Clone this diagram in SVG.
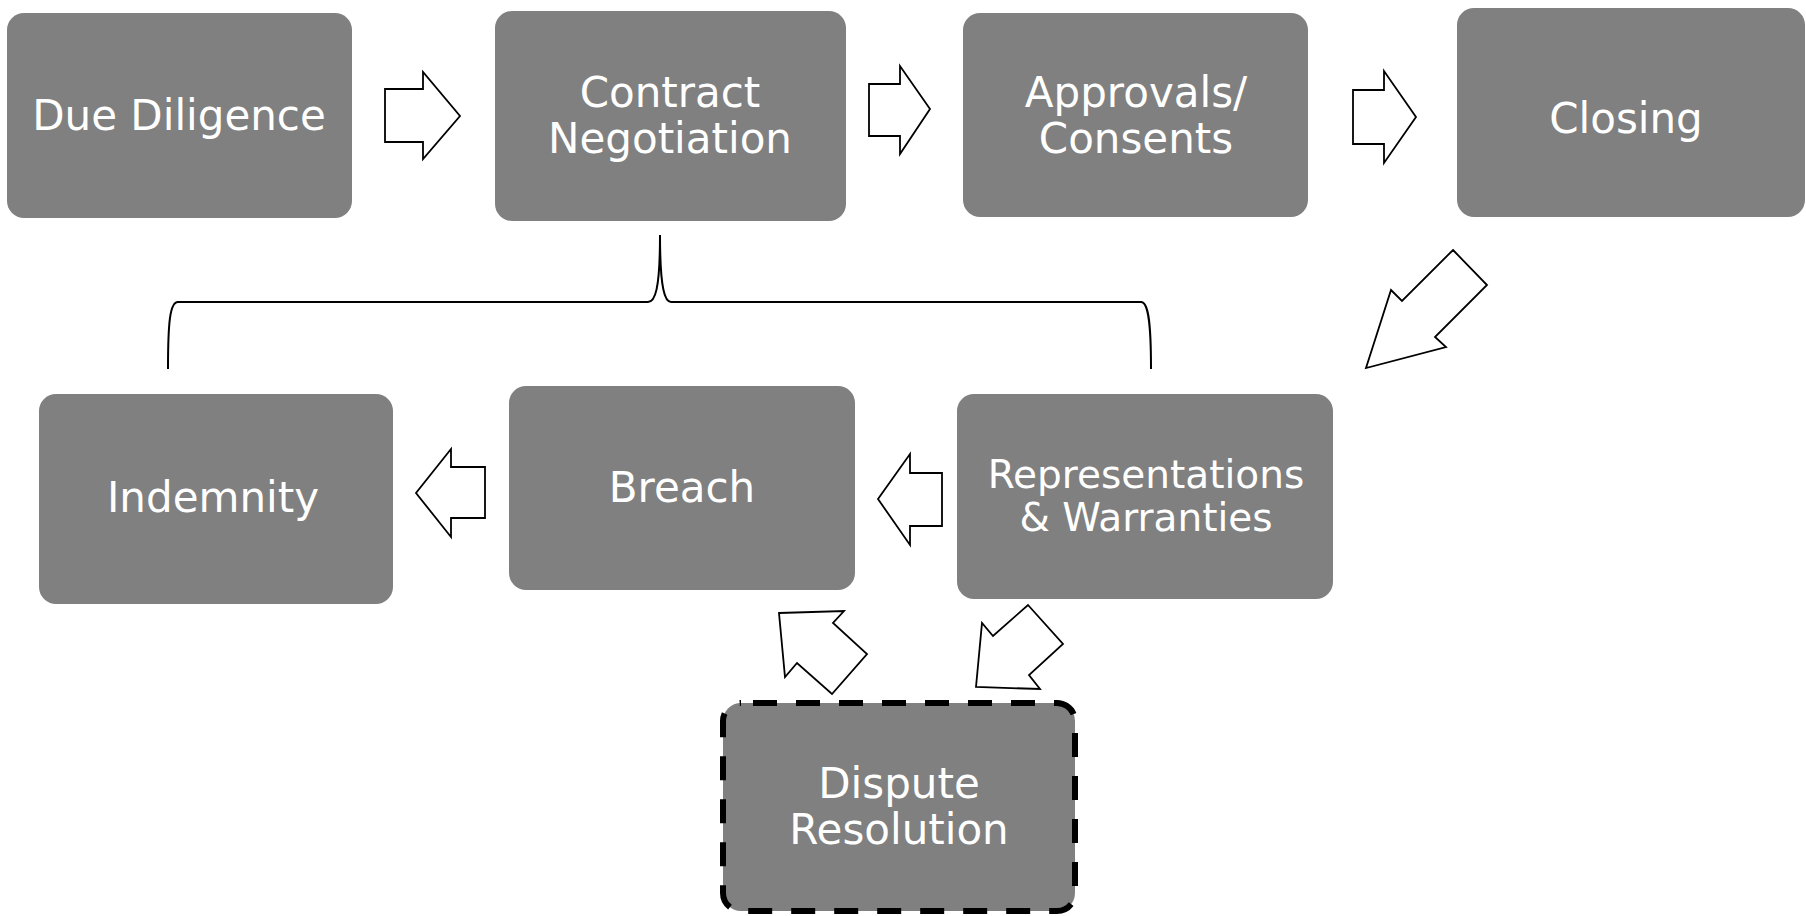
<svg xmlns="http://www.w3.org/2000/svg" width="1806" height="916" viewBox="0 0 1806 916">
<style>
.box{fill:#808080;}
.lbl{font-family:"DejaVu Sans","Verdana",sans-serif;font-size:42px;fill:#ffffff;text-anchor:middle;}
.sm{font-size:39px;}
.arr{fill:#ffffff;stroke:#000000;stroke-width:1.8;stroke-linejoin:miter;}
.brace{fill:none;stroke:#000000;stroke-width:2;}
.dash{stroke:#000000;stroke-width:6;stroke-dasharray:24 19;stroke-dashoffset:-12;}
</style>
<rect width="1806" height="916" fill="#ffffff"/>
<g id="connectors">
<path class="brace" d="M168,369 C168,322 170,302 178,302 L648,302 C655,302 660,290 660,235 C660,290 665,302 671,302 L1141,302 C1148,302 1151,320 1151,369"/>
<polygon class="arr" points="385,89 423,89 423,72 460,116 423,159 423,142 385,142"/>
<polygon class="arr" points="869,84 900,84 900,66 930,109 900,154 900,136 869,136"/>
<polygon class="arr" points="1353,90 1384,90 1384,71 1416,117 1384,163 1384,144 1353,144"/>
<polygon class="arr" points="1453,250 1487,285 1435,337 1446,347 1366,368 1391,290 1402,301"/>
<polygon class="arr" points="942,473 942,526 910,526 910,545 878,499 910,454 910,473"/>
<polygon class="arr" points="485,467 485,518 451,518 451,537 416,493 451,449 451,467"/>
<polygon class="arr" points="779,613 844,611 833,623 867,654 832,694 797,663 785,677"/>
<polygon class="arr" points="1028,605 1063,644 1029,675 1040,689 976,687 982,623 993,636"/>
</g>
<g id="due-diligence">
<rect class="box" x="7" y="13" width="345" height="205" rx="17" ry="17"/>
<text class="lbl" x="179" y="130">Due Diligence</text>
</g>
<g id="contract-negotiation">
<rect class="box" x="495" y="11" width="351" height="210" rx="17" ry="17"/>
<text class="lbl" x="670" y="107">Contract</text>
<text class="lbl" x="670" y="153">Negotiation</text>
</g>
<g id="approvals-consents">
<rect class="box" x="963" y="13" width="345" height="204" rx="17" ry="17"/>
<text class="lbl" x="1136" y="107">Approvals/</text>
<text class="lbl" x="1136" y="153">Consents</text>
</g>
<g id="closing">
<rect class="box" x="1457" y="8" width="348" height="209" rx="17" ry="17"/>
<text class="lbl" x="1626" y="133">Closing</text>
</g>
<g id="indemnity">
<rect class="box" x="39" y="394" width="354" height="210" rx="17" ry="17"/>
<text class="lbl" x="213" y="512">Indemnity</text>
</g>
<g id="breach">
<rect class="box" x="509" y="386" width="346" height="204" rx="17" ry="17"/>
<text class="lbl" x="682" y="502">Breach</text>
</g>
<g id="representations-warranties">
<rect class="box" x="957" y="394" width="376" height="205" rx="17" ry="17"/>
<text class="lbl sm" x="1146" y="488">Representations</text>
<text class="lbl sm" x="1146" y="531">&amp; Warranties</text>
</g>
<g id="dispute-resolution">
<rect class="box dash" x="723" y="703" width="352" height="208" rx="18" ry="18"/>
<text class="lbl" x="899" y="798">Dispute</text>
<text class="lbl" x="899" y="844">Resolution</text>
</g>
</svg>
